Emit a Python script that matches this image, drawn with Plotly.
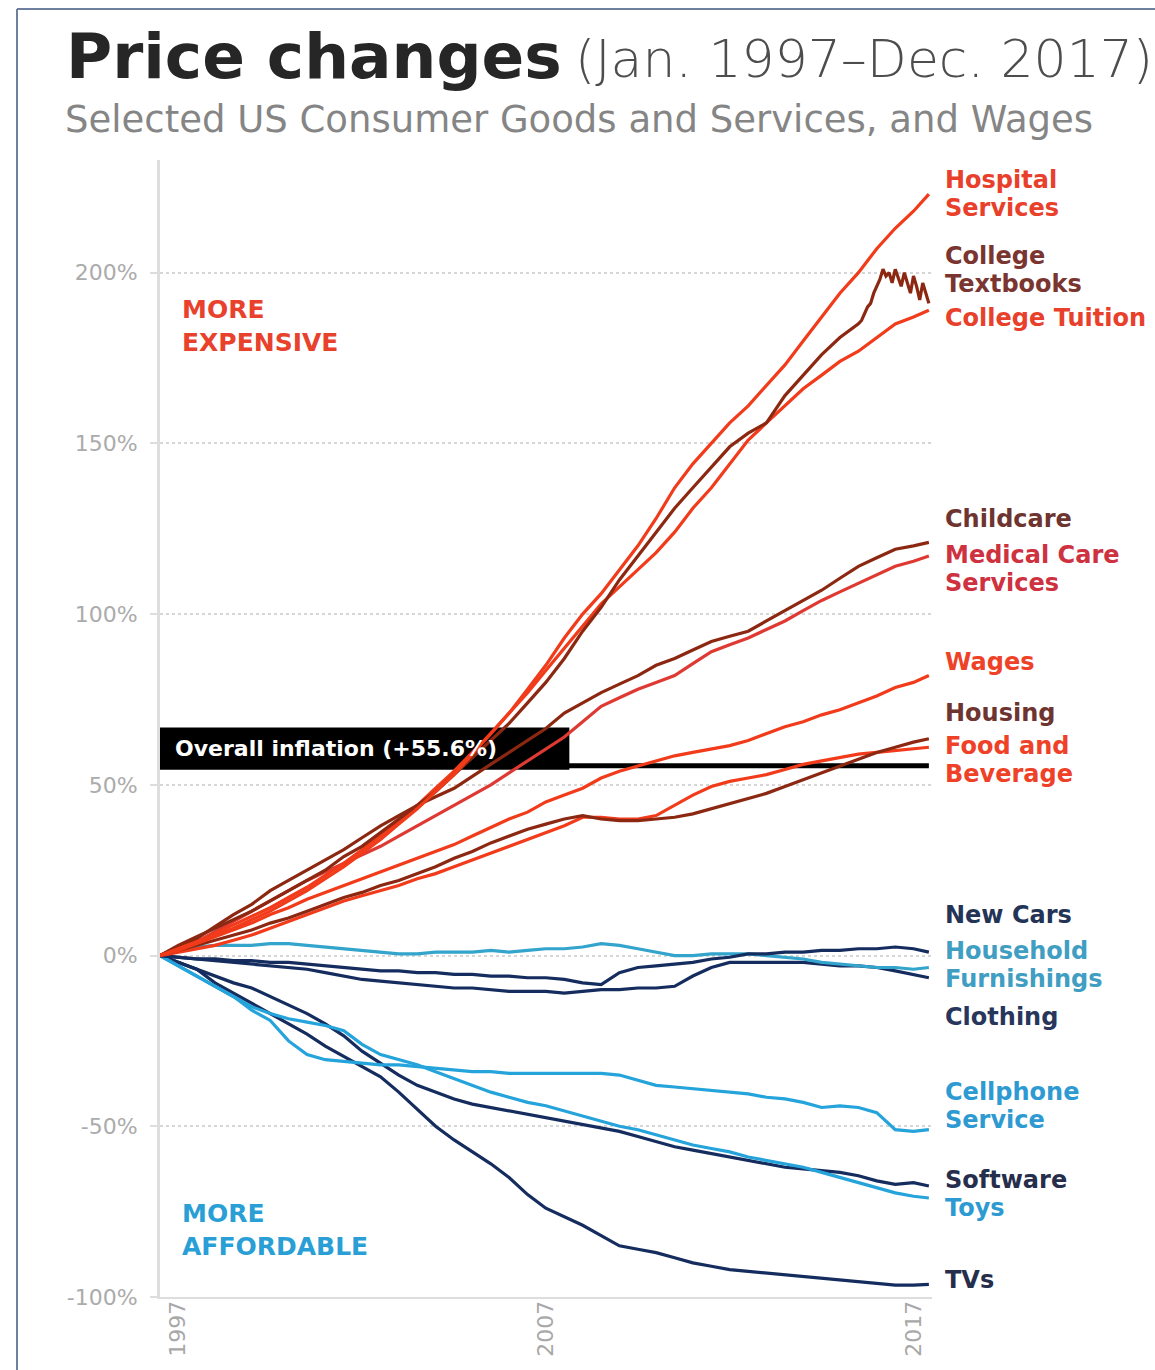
import pandas as pd
import plotly.graph_objects as go

# ---------------------------------------------------------------------------
# Data: cumulative price change (%) since Jan. 1997, sampled every six months
# (Jan / Jul) up to Jul. 2017, plus Dec. 2017.
# ---------------------------------------------------------------------------
DATES = list(pd.date_range("1997-01-01", "2017-07-01", freq="6MS")) + [pd.Timestamp("2017-12-01")]

HOSPITAL = [0, 2, 4, 6, 8, 10.5, 13, 16, 19, 22.5, 26, 30, 34, 38.5, 43, 48, 53, 59, 65, 71,
            78, 85, 93, 100, 106, 113, 120, 128, 137, 144, 150, 156, 161, 167, 173, 180, 187,
            194, 200, 207, 213, 218, 223]
# College textbooks: semi-annual through Jul. 2015, then monthly (it is much noisier)
TEXTBOOKS_HEAD = [0, 3, 5.5, 8, 10.5, 13, 16, 19, 22, 25, 29, 32, 36, 40, 44, 48, 53, 58, 63, 68,
                  74, 80, 87, 95, 102, 110, 117, 124, 131, 137, 143, 149, 153, 156, 164, 170, 176, 181]
TEXTBOOKS_TAIL_DATES = list(pd.date_range("2016-01-01", "2017-12-01", freq="MS"))
TEXTBOOKS_TAIL = [185, 186, 188, 190, 191, 194, 196, 198, 201, 199, 200, 197,
                  201, 198, 196, 200, 197, 194, 199, 196, 192, 197, 194, 191]
TUITION = [0, 2, 4, 6.5, 9, 11.5, 14, 17, 20, 23.5, 27, 31, 35, 39.5, 44, 49, 54, 59.5, 65, 71,
           77, 83.5, 90, 96.5, 103, 108, 113, 118, 124, 131, 137, 144, 151, 156, 161, 166, 170,
           174, 177, 181, 185, 187, 189]
CHILDCARE = [0, 2.5, 5, 8.5, 12, 15, 19, 22, 25, 28, 31, 34.5, 38, 41, 44, 46.5, 49, 52.5, 56, 59.5,
             63, 66.5, 71, 74, 77, 79.5, 82, 85, 87, 89.5, 92, 93.5, 95, 98, 101, 104, 107, 110.5,
             114, 116.5, 119, 120, 121]
MEDICAL = [0, 2, 4, 7, 10, 13, 16, 19, 22, 24.5, 27, 29.5, 32, 35, 38, 41, 44, 47, 50, 53.5,
           57, 60.5, 64, 68.5, 73, 75.5, 78, 80, 82, 85.5, 89, 91, 93, 95.5, 98, 101, 104, 106.5,
           109, 111.5, 114, 115.5, 117]
WAGES = [0, 1.5, 3.5, 5.5, 7.5, 9.5, 12, 14, 16.5, 18.5, 20.5, 22.5, 24.5, 26.5, 28.5, 30.5, 32.5,
         35, 37.5, 40, 42, 45, 47, 49, 52, 54, 55.5, 57, 58.5, 59.5, 60.5, 61.5, 63, 65, 67, 68.5,
         70.5, 72, 74, 76, 78.5, 80, 82]
HOUSING = [0, 1.5, 3, 4.5, 6, 7.5, 9.5, 11, 13, 15, 17, 18.5, 20.5, 22, 24, 26, 28.5, 30.5, 33, 35,
           37, 38.5, 40, 41, 40, 39.5, 39.5, 40, 40.5, 41.5, 43, 44.5, 46, 47.5, 49.5, 51.5, 53.5,
           55.5, 57.5, 59.5, 61, 62.5, 63.5]
FOOD = [0, 1, 2, 3, 4.5, 6, 8, 10, 12, 14, 16, 17.5, 19, 20.5, 22.5, 24, 26, 28, 30, 32,
        34, 36, 38, 40.5, 40.5, 40, 40, 41, 44, 47, 49.5, 51, 52, 53, 54.5, 56, 57, 58, 59, 59.5,
        60, 60.5, 61]
NEW_CARS = [0, -0.5, -1, -1, -1.5, -1.5, -2, -2, -2.5, -3, -3.5, -4, -4.5, -4.5, -5, -5, -5.5, -5.5,
            -6, -6, -6.5, -6.5, -7, -8, -8.5, -5, -3.5, -3, -2.5, -2, -1, -0.5, 0.5, 0.5, 1, 1,
            1.5, 1.5, 2, 2, 2.5, 2, 1]
FURNISHINGS = [0, 1.5, 2.5, 3, 3, 3, 3.5, 3.5, 3, 2.5, 2, 1.5, 1, 0.5, 0.5, 1, 1, 1, 1.5, 1,
               1.5, 2, 2, 2.5, 3.5, 3, 2, 1, 0, 0, 0.5, 0.5, 0.5, 0, -0.5, -1, -2, -2.5, -3, -3.5,
               -3.5, -4, -3.5]
CLOTHING = [0, -0.5, -1, -1.5, -2, -2.5, -3, -3.5, -4, -5, -6, -7, -7.5, -8, -8.5, -9, -9.5, -9.5,
            -10, -10.5, -10.5, -10.5, -11, -10.5, -10, -10, -9.5, -9.5, -9, -6, -3.5, -2, -2, -2,
            -2, -2, -2.5, -3, -3, -3.5, -4.5, -5.5, -6.5]
CELLPHONE = [0, -3, -6, -9, -12, -16, -19, -25, -29, -30.5, -31, -31.5, -32, -32, -32.5, -33, -33.5,
             -34, -34, -34.5, -34.5, -34.5, -34.5, -34.5, -34.5, -35, -36.5, -38, -38.5, -39, -39.5,
             -40, -40.5, -41.5, -42, -43, -44.5, -44, -44.5, -46, -51, -51.5, -51]
SOFTWARE = [0, -2, -4, -6, -8, -9.5, -12, -14.5, -17, -20, -23.5, -28, -31.5, -35, -38, -40, -42,
            -43.5, -44.5, -45.5, -46.5, -47.5, -48.5, -49.5, -50.5, -51.5, -53, -54.5, -56, -57,
            -58, -59, -60, -61, -62, -62.5, -63, -63.5, -64.5, -66, -67, -66.5, -67.5]
TOYS = [0, -3, -6, -9, -12, -15, -17, -18.5, -19.5, -20.5, -22, -26, -29, -30.5, -32, -34, -36,
        -38, -40, -41.5, -43, -44, -45.5, -47, -48.5, -50, -51, -52.5, -54, -55.5, -56.5, -57.5,
        -59, -60, -61, -62, -63.5, -65, -66.5, -68, -69.5, -70.5, -71]
TVS = [0, -2, -4, -8, -11, -14, -17, -20, -23, -26.5, -29.5, -32.5, -35.5, -40, -45, -50, -54,
       -57.5, -61, -65, -70, -74, -76.5, -79, -82, -85, -86, -87, -88.5, -90, -91, -92, -92.5,
       -93, -93.5, -94, -94.5, -95, -95.5, -96, -96.5, -96.5, -96.3]

OVERALL_INFLATION = 55.6

Y_TICKS = [-100, -50, 0, 50, 100, 150, 200]
Y_TICK_TEXT = ["-100%", "-50%", "0%", "50%", "100%", "150%", "200%"]
X_TICKS = ["1997-07-01", "2007-07-01", "2017-07-01"]
X_TICK_TEXT = ["1997", "2007", "2017"]

# ---------------------------------------------------------------------------
# Styling
# ---------------------------------------------------------------------------
RED = "#F13B1A"
BROWN = "#8C2811"
CRIMSON = "#DE3A33"
NAVY = "#152C5E"
LIGHT = "#25A3DB"
TEAL = "#33A4CC"

textbook_dates = DATES[:len(TEXTBOOKS_HEAD)] + TEXTBOOKS_TAIL_DATES
textbook_vals = TEXTBOOKS_HEAD + TEXTBOOKS_TAIL

series = [
    ("TVs", DATES, TVS, NAVY),
    ("Software", DATES, SOFTWARE, NAVY),
    ("Toys", DATES, TOYS, LIGHT),
    ("Cellphone Service", DATES, CELLPHONE, LIGHT),
    ("Clothing", DATES, CLOTHING, NAVY),
    ("Household Furnishings", DATES, FURNISHINGS, TEAL),
    ("New Cars", DATES, NEW_CARS, NAVY),
    ("Food and Beverage", DATES, FOOD, RED),
    ("Housing", DATES, HOUSING, BROWN),
    ("Wages", DATES, WAGES, RED),
    ("Medical Care Services", DATES, MEDICAL, CRIMSON),
    ("Childcare", DATES, CHILDCARE, BROWN),
    ("College Tuition", DATES, TUITION, RED),
    ("College Textbooks", textbook_dates, textbook_vals, BROWN),
    ("Hospital Services", DATES, HOSPITAL, RED),
]

W, H = 1155, 1370
ML, MR, MT, MB = 160, 223, 160, 73


def px_x(p):
    return (p - ML) / (W - ML - MR)


def px_y(p):
    return (H - MB - p) / (H - MT - MB)


FONT = "DejaVu Sans"

fig = go.Figure()
for name, xs, ys, color in series:
    fig.add_trace(go.Scatter(
        x=xs, y=ys, mode="lines", name=name,
        line=dict(color=color, width=3.2),
        hoverinfo="x+y+name",
    ))

# Overall inflation reference line and its black tag
fig.add_shape(type="line", layer="between",
              x0="1997-01-01", x1="2017-12-01", y0=OVERALL_INFLATION, y1=OVERALL_INFLATION,
              line=dict(color="#000000", width=5))
fig.add_shape(type="rect", layer="between",
              x0="1997-01-01", x1="2008-02-20",
              y0=OVERALL_INFLATION - 1.2, y1=OVERALL_INFLATION + 11.2,
              fillcolor="#000000", line=dict(width=0))

annotations = []


def note(text, x, y, size, color, weight="normal", xanchor="left"):
    annotations.append(dict(
        text=text, x=px_x(x), y=px_y(y), xref="paper", yref="paper",
        xanchor=xanchor, yanchor="middle", align="left", showarrow=False,
        font=dict(family=FONT, size=size, color=color, weight=weight),
    ))


annotations.append(dict(
    text=f"Overall inflation (+{OVERALL_INFLATION}%)", x="1997-05-10", y=OVERALL_INFLATION + 5,
    xref="x", yref="y", xanchor="left", yanchor="middle", showarrow=False,
    font=dict(family=FONT, size=22, color="#ffffff", weight="bold"),
))

# Title block
note("Price changes", 64, 56, 63, "#262626", weight="bold")
note("(Jan. 1997\u2013Dec. 2017)", 573, 59, 52, "#4d4d4d", weight=200)
note("Selected US Consumer Goods and Services, and Wages", 63, 120, 37, "#858585")

# Region captions
note("MORE<br>EXPENSIVE", 180, 326, 25, "#E8412C", weight="bold")
note("MORE<br>AFFORDABLE", 180, 1230, 25, "#2A9FD6", weight="bold")

# End-of-line labels (one entry per text line)
LABEL_LINES = [
    ("Hospital", 180, "#E8402A"), ("Services", 208, "#E8402A"),
    ("College", 256, "#7A3530"), ("Textbooks", 284, "#7A3530"),
    ("College Tuition", 318, "#E8402A"),
    ("Childcare", 519, "#6E3430"),
    ("Medical Care", 555, "#CE3140"), ("Services", 583, "#CE3140"),
    ("Wages", 662, "#EE4128"),
    ("Housing", 713, "#6E3430"),
    ("Food and", 746, "#EE4128"), ("Beverage", 774, "#EE4128"),
    ("New Cars", 915, "#233457"),
    ("Household", 951, "#3F9EC2"), ("Furnishings", 979, "#3F9EC2"),
    ("Clothing", 1017, "#28365C"),
    ("Cellphone", 1092, "#2E9AD2"), ("Service", 1120, "#2E9AD2"),
    ("Software", 1180, "#262E4C"),
    ("Toys", 1208, "#2E9AD2"),
    ("TVs", 1280, "#262E4C"),
]
for text, ypx, color in LABEL_LINES:
    note(text, 943, ypx, 24, color, weight="bold")

# Thin frame along the top and left edges
frame = dict(color="#6F7FA0", width=2)
shapes_paper = [
    dict(type="line", xref="paper", yref="paper", x0=px_x(17), x1=px_x(W), y0=px_y(9), y1=px_y(9), line=frame),
    dict(type="line", xref="paper", yref="paper", x0=px_x(17), x1=px_x(17), y0=px_y(9), y1=px_y(H), line=frame),
]
for s in shapes_paper:
    fig.add_shape(**s)

fig.update_layout(
    width=W, height=H,
    margin=dict(l=ML, r=MR, t=MT, b=MB, pad=0, autoexpand=False),
    paper_bgcolor="#ffffff", plot_bgcolor="#ffffff",
    showlegend=False,
    annotations=annotations,
    font=dict(family=FONT),
)

fig.update_xaxes(
    type="date", range=["1997-01-01", "2018-01-01"],
    tickvals=X_TICKS, ticktext=X_TICK_TEXT, tickangle=-90,
    tickfont=dict(family=FONT, size=22, color="#a8a8a8"),
    showgrid=False, zeroline=False, automargin=False,
    showline=True, linecolor="#dddddd", linewidth=2,
    ticks="", ticklabelstandoff=-7,
)
fig.update_yaxes(
    range=[-100, 233],
    tickvals=Y_TICKS, ticktext=Y_TICK_TEXT,
    tickfont=dict(family=FONT, size=22, color="#ababab"),
    showgrid=True, gridcolor="#d6d6d6", griddash="dot", gridwidth=1.5,
    zeroline=False, automargin=False,
    showline=True, linecolor="#dedede", linewidth=3,
    ticks="outside", ticklen=7, tickcolor="#dddddd", tickwidth=1.5,
    ticklabelstandoff=8,
)

fig.write_html("out.html")
